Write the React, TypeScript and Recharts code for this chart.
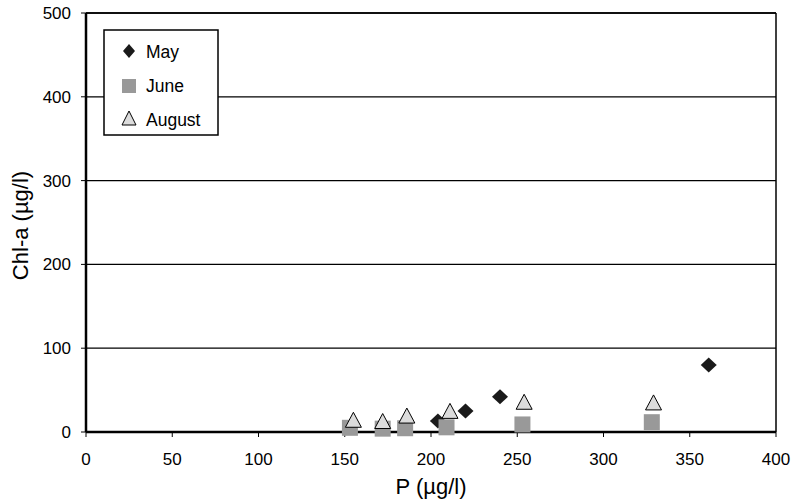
import { ScatterChart, Scatter, XAxis, YAxis, CartesianGrid, ReferenceLine } from 'recharts';

const mayP = [204, 220, 240, 361];
const mayChl = [13, 25, 42, 80];
const juneP = [153, 172, 185, 209, 253, 328];
const juneChl = [5, 4, 4.5, 5.6, 9, 11.7];
const augP = [155, 172, 186, 211, 254, 329];
const augChl = [14, 12.5, 19, 24.6, 35.5, 34.7];

const xTicks = [0, 50, 100, 150, 200, 250, 300, 350, 400];
const yTicks = [0, 100, 200, 300, 400, 500];
const seriesNames = ['May', 'June', 'August'];

const toPoints = (xs: number[], ys: number[]) => xs.map((p, i) => ({ p, chl: ys[i] }));

const font = '"Liberation Sans", Arial, sans-serif';

const Diamond = (props: any) => {
    const { cx, cy } = props;
    return <polygon points={`${cx},${cy - 7.5} ${cx + 8},${cy} ${cx},${cy + 7.5} ${cx - 8},${cy}`} fill="#1a1a1a" />;
};

const Square = (props: any) => {
    const { cx, cy } = props;
    return <rect x={cx - 8} y={cy - 8} width={16} height={16} fill="#999999" />;
};

const Triangle = (props: any) => {
    const { cx, cy } = props;
    return <polygon points={`${cx},${cy - 8} ${cx + 8},${cy + 7} ${cx - 8},${cy + 7}`} fill="#dcdcdc" stroke="#000" strokeWidth={1} />;
};

const YLabel = (props: any) => {
    const { viewBox } = props;
    const cy = viewBox.y + viewBox.height / 2 + 3;
    return (
        <text x={20} y={cy} transform={`rotate(-90, 20, ${cy})`} textAnchor="middle" dominantBaseline="central"
            fontSize={22} fill="#000" fontFamily={font}>
            Chl-a (µg/l)
        </text>
    );
};

function LegendBox() {
    return (
        <svg width={116} height={107} style={{ position: 'absolute', left: 103, top: 29 }}>
            <rect x={1} y={1} width={114} height={105} fill="#fff" stroke="#000" strokeWidth={1.5} />
            <polygon points="26,15 32,22 26,29 20,22" fill="#1a1a1a" />
            <rect x={19} y={50} width={14} height={14} fill="#999999" />
            <polygon points="26,82 33,96 19,96" fill="#dcdcdc" stroke="#000" strokeWidth={1} />
            {seriesNames.map((n, i) => (
                <text key={n} x={43} y={23 + i * 34} dominantBaseline="central" fontSize={17.5} fill="#000" fontFamily={font}>{n}</text>
            ))}
        </svg>
    );
}

export default function App() {
    return (
        <div style={{ position: 'absolute', left: 0, top: 0, width: 792, height: 504, background: '#fff' }}>
            <ScatterChart width={792} height={504} margin={{ top: 13, right: 16, left: 0, bottom: 0 }} style={{ overflow: 'visible' }}>
                <CartesianGrid vertical={false} stroke="#000" strokeWidth={1.3} />
                <XAxis type="number" dataKey="p" domain={[0, 400]} ticks={xTicks} height={72}
                    axisLine={{ stroke: '#000', strokeWidth: 2.5 }} tickLine={{ stroke: '#000' }} tickSize={5} tickMargin={16}
                    tick={{ fill: '#000', fontSize: 17, fontFamily: font }}
                    label={{ value: 'P (µg/l)', position: 'insideBottom', offset: 10, fontSize: 22, fill: '#000', fontFamily: font }} />
                <YAxis type="number" dataKey="chl" domain={[0, 500]} ticks={yTicks} width={86}
                    axisLine={{ stroke: '#000', strokeWidth: 2.5 }} tickLine={{ stroke: '#000' }} tickSize={5} tickMargin={10}
                    tick={{ fill: '#000', fontSize: 17, fontFamily: font }}
                    label={<YLabel />} />
                <ReferenceLine x={400} stroke="#000" strokeWidth={1.5} />
                <ReferenceLine y={500} stroke="#000" strokeWidth={1.5} />
                <Scatter name="May" data={toPoints(mayP, mayChl)} shape={<Diamond />} isAnimationActive={false} />
                <Scatter name="June" data={toPoints(juneP, juneChl)} shape={<Square />} isAnimationActive={false} />
                <Scatter name="August" data={toPoints(augP, augChl)} shape={<Triangle />} isAnimationActive={false} />
            </ScatterChart>
            <LegendBox />
        </div>
    );
}
